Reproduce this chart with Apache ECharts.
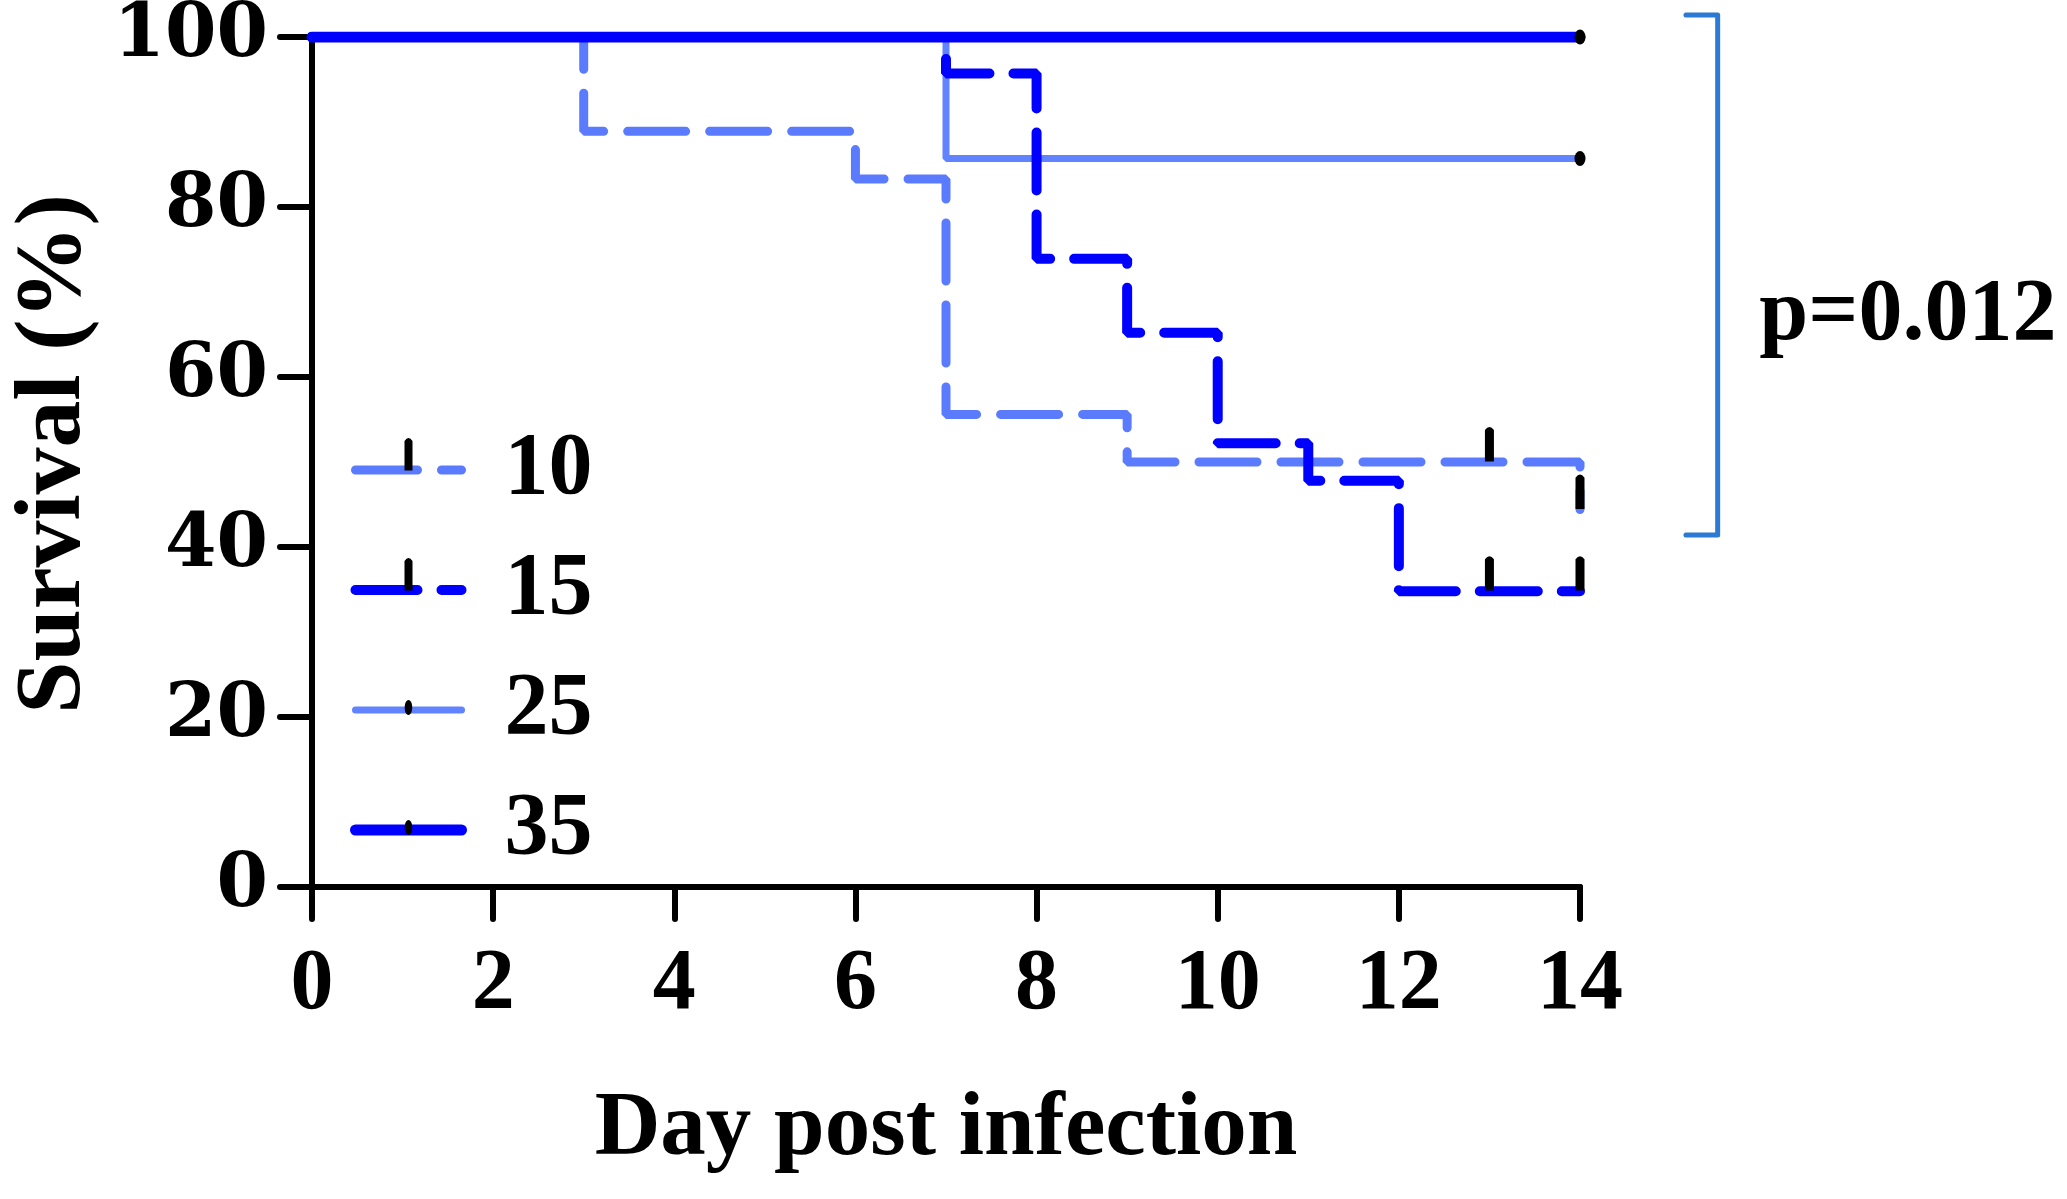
<!DOCTYPE html>
<html>
<head>
<meta charset="utf-8">
<script src="https://cdn.jsdelivr.net/npm/echarts@6/dist/echarts.min.js"></script>
<style>
html,body{margin:0;padding:0;background:#fff;}
#chart{width:2067px;height:1199px;}
</style>
</head>
<body>
<div id="chart"></div>
<script>
// ---- data ----
const groupNames = ['10', '15', '25', '35'];
const xTicks = [0, 2, 4, 6, 8, 10, 12, 14];
const yTicks = [0, 20, 40, 60, 80, 100];
// Kaplan-Meier steps: [day, survival %]
const surv10 = [[0, 100], [3, 88.9], [6, 83.3], [7, 55.6], [9, 50], [14, 44.4]];
const surv15 = [[0, 100], [7, 95.7], [8, 73.9], [9, 65.2], [10, 52.2], [11, 47.8], [12, 34.8], [14, 34.8]];
const surv25 = [[0, 100], [7, 85.7], [14, 85.7]];
const surv35 = [[0, 100], [14, 100]];
// censored observations
const cens10 = [[13, 50], [14, 44.4]];
const cens15 = [[13, 34.8], [14, 34.8]];
const cens25 = [[14, 85.7]];
const cens35 = [[14, 100]];
// significance bracket and label (data coordinates)
const bracketPts = [[15.17, 102.6], [15.52, 102.6], [15.52, 41.4], [15.17, 41.4]];
const pLabelPos = [15.98, 67.2];
const pLabel = 'p=0.012';

const FONT = '"Liberation Serif", "DejaVu Serif", serif';
const YFONT = '"DejaVu Serif", "Liberation Serif", serif';
const LIGHT = '#5b7bff';
const LIGHT2 = '#6283ff';
const DARK = '#0000ff';
const BRACKET = '#2b7bd4';

// legend icon paths (square bbox, tick/dot in upper half)
const tickLegend = 'path://M-4,-30 Q0,-36 4,-30 L4,0 L-4,0 Z M-32,-32 L-31.9,-32 L-31.9,-31.9 Z M32,32 L31.9,32 L31.9,31.9 Z';
const dotLegend = 'path://M0,-10 C5,-10 5,5 0,5 C-5,5 -5,-10 0,-10 Z M-32,-32 L-31.9,-32 L-31.9,-31.9 Z M32,32 L31.9,32 L31.9,31.9 Z';
// censor tick in plot: tick in upper half of a tall box
const tickPlot = 'path://M0,0.12 Q0.5,-0.05 1,0.12 L1,1 L0,1 Z M0,2 L0.001,2 L0.001,1.999 Z';

const chart = echarts.init(document.getElementById('chart'));

function km(name, data, color, width, dashed) {
  return {
    name: name, type: 'line', step: 'end', data: data,
    showSymbol: false, symbol: dashed ? tickLegend : dotLegend,
    animation: false, silent: true,
    lineStyle: { color: color, width: width, type: dashed ? [58, 24] : 'solid', cap: 'round' },
    itemStyle: { color: color },
    z: 3
  };
}
function censor(name, data, ticks) {
  return {
    name: name, type: 'scatter', data: data, animation: false, silent: true,
    symbol: ticks ? tickPlot : 'circle',
    symbolSize: ticks ? [9, 70] : [11, 15],
    itemStyle: { color: '#000', opacity: 1 }, z: 5
  };
}
const lineW = { '10': 9, '15': 10, '25': 7, '35': 11 };
const lineC = { '10': LIGHT, '15': DARK, '25': LIGHT2, '35': DARK };
const lineDashed = { '10': true, '15': true, '25': false, '35': false };

const option = {
  backgroundColor: '#fff',
  animation: false,
  grid: { left: 291, right: 487, top: 31, bottom: 312, containLabel: false },
  xAxis: {
    type: 'value', min: 0, max: 14, interval: 2,
    name: 'Day post infection', nameLocation: 'middle', nameGap: 198,
    nameTextStyle: { fontFamily: FONT, fontWeight: 'bold', fontSize: 91, color: '#000' },
    axisLine: { lineStyle: { color: '#000', width: 6, cap: 'round' } },
    axisTick: { show: true, length: 32, lineStyle: { color: '#000', width: 6, cap: 'round' } },
    axisLabel: { margin: 56, fontFamily: FONT, fontWeight: 'bold', fontSize: 86, color: '#000',
      formatter: v => xTicks.indexOf(v) >= 0 ? String(v) : '' },
    splitLine: { show: false }
  },
  yAxis: {
    type: 'value', min: 0, max: 100, interval: 20,
    name: 'Survival (%)', nameLocation: 'middle', nameGap: 210,
    nameTextStyle: { fontFamily: FONT, fontWeight: 'bold', fontSize: 94, color: '#000', padding: [0, 0, 0, 16] },
    axisLine: { show: true, lineStyle: { color: '#000', width: 6, cap: 'round' } },
    axisTick: { show: true, length: 32, lineStyle: { color: '#000', width: 6, cap: 'round' } },
    axisLabel: { margin: 44, fontFamily: YFONT, fontWeight: 'bold', fontSize: 74, color: '#000',
      formatter: v => yTicks.indexOf(v) >= 0 ? String(v) : '' },
    splitLine: { show: false }
  },
  legend: {
    orient: 'vertical', left: 345, top: 421,
    itemWidth: 106, itemHeight: 80, itemGap: 32,
    selectedMode: false,
    textStyle: { fontFamily: FONT, fontWeight: 'bold', fontSize: 88, color: '#000', lineHeight: 80, padding: [0, 0, 0, 38] },
    data: groupNames.map(n => ({
      name: n,
      itemStyle: { color: '#000', borderWidth: 0, opacity: 1 },
      lineStyle: { color: lineC[n], width: lineW[n], type: lineDashed[n] ? [62, 24] : 'solid', cap: 'round', opacity: 1 }
    }))
  },
  series: [
    km('10', surv10, LIGHT, lineW['10'], true),
    km('25', surv25, LIGHT2, lineW['25'], false),
    km('15', surv15, DARK, lineW['15'], true),
    km('35', surv35, DARK, lineW['35'], false),
    censor('c10', cens10, true),
    censor('c15', cens15, true),
    censor('c25', cens25, false),
    censor('c35', cens35, false),
    {
      name: 'annotation', type: 'custom', clip: false, silent: true, animation: false,
      data: [[0, 0]],
      renderItem: function (params, api) {
        const pts = bracketPts.map(p => api.coord(p));
        const tp = api.coord(pLabelPos);
        return {
          type: 'group',
          children: [
            { type: 'polyline', shape: { points: pts },
              style: { stroke: BRACKET, lineWidth: 5, fill: null, lineJoin: 'round', lineCap: 'round' } },
            { type: 'text', x: tp[0], y: tp[1],
              style: { text: pLabel, fill: '#000', font: 'bold 88px ' + FONT,
                align: 'left', verticalAlign: 'middle', textAlign: 'left', textVerticalAlign: 'middle' } }
          ]
        };
      },
      z: 6
    }
  ]
};
chart.setOption(option);
</script>
</body>
</html>
